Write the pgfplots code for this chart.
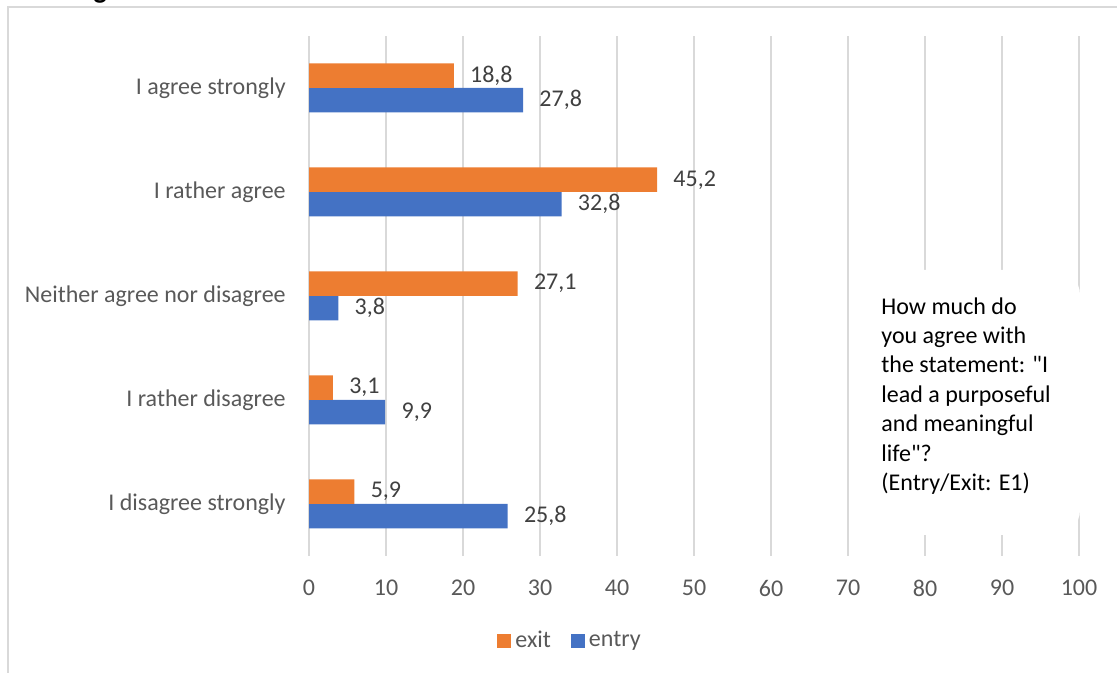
\documentclass[border=0pt,12pt]{standalone}
\usepackage{fontspec}
\setmainfont{Carlito}
\usepackage{pgfplots}
\pgfplotsset{compat=1.18}
\definecolor{exitc}{HTML}{ED7D31}
\definecolor{entryc}{HTML}{4472C4}
\definecolor{gridc}{HTML}{D9D9D9}
\definecolor{labc}{HTML}{595959}
\definecolor{datc}{HTML}{404040}
\begin{document}
\begin{tikzpicture}[x=1pt,y=1pt]
\useasboundingbox (0,0) rectangle (558.5,336.5);
\begin{scope}
\clip (0,0) rectangle (558.5,336.5);
\node[anchor=base west, inner sep=0, font=\fontsize{14}{16}\selectfont\bfseries] at (2,337) {Meaning of life};
\end{scope}
\draw[gridc, line width=0.75pt] (4,0) -- (4,333) -- (558.5,333);
\begin{axis}[
  at={(154.5pt,58.5pt)}, anchor=south west,
  scale only axis, width=385pt, height=260pt,
  xbar, bar width=12.25pt,
  xmin=0, xmax=100, ymin=-0.5, ymax=4.5,
  xtick={0,10,...,100},
  ytick={0,1,2,3,4},
  yticklabels={I disagree strongly, I rather disagree, Neither agree nor disagree, I rather agree, I agree strongly},
  xmajorgrids, major grid style={gridc, line width=0.75pt},
  axis line style={draw=none},
  major tick length=0pt,
  tick label style={text=labc},
  yticklabel style={xshift=-7.5pt},
  xticklabel style={yshift=-8pt},
  /pgf/number format/assume math mode=true,
  nodes near coords={\pgfmathprintnumber[fixed,fixed zerofill,precision=1,use comma]{\pgfplotspointmeta}},
  nodes near coords style={anchor=west, xshift=4pt, text=datc},
  legend style={at={(0.3403,-0.1635)}, anchor=center, draw=none, legend columns=2,
    /tikz/every even column/.append style={column sep=8pt}, text=labc},
  legend image code/.code={\fill[#1] (0pt,-3.5pt) rectangle (7pt,3.5pt);},
  reverse legend,
]
\addplot[fill=entryc, draw=none, bar shift=-6.125pt] coordinates {(25.8,0) (9.9,1) (3.8,2) (32.8,3) (27.8,4)};
\addplot[fill=exitc, draw=none, bar shift=6.125pt] coordinates {(5.9,0) (3.1,1) (27.1,2) (45.2,3) (18.8,4)};
\legend{entry, exit}
\end{axis}
\fill[white, rounded corners=12.5pt] (427.5,69) rectangle (540,201.5);
\node[anchor=north west, inner sep=0, align=left, font=\fontsize{12}{14.7}\selectfont] at (440.5,188) {How much do\\you agree with\\the statement: \textquotedbl I\\lead a purposeful\\and meaningful\\life\textquotedbl ?\\(Entry/Exit: E1)};
\end{tikzpicture}
\end{document}
